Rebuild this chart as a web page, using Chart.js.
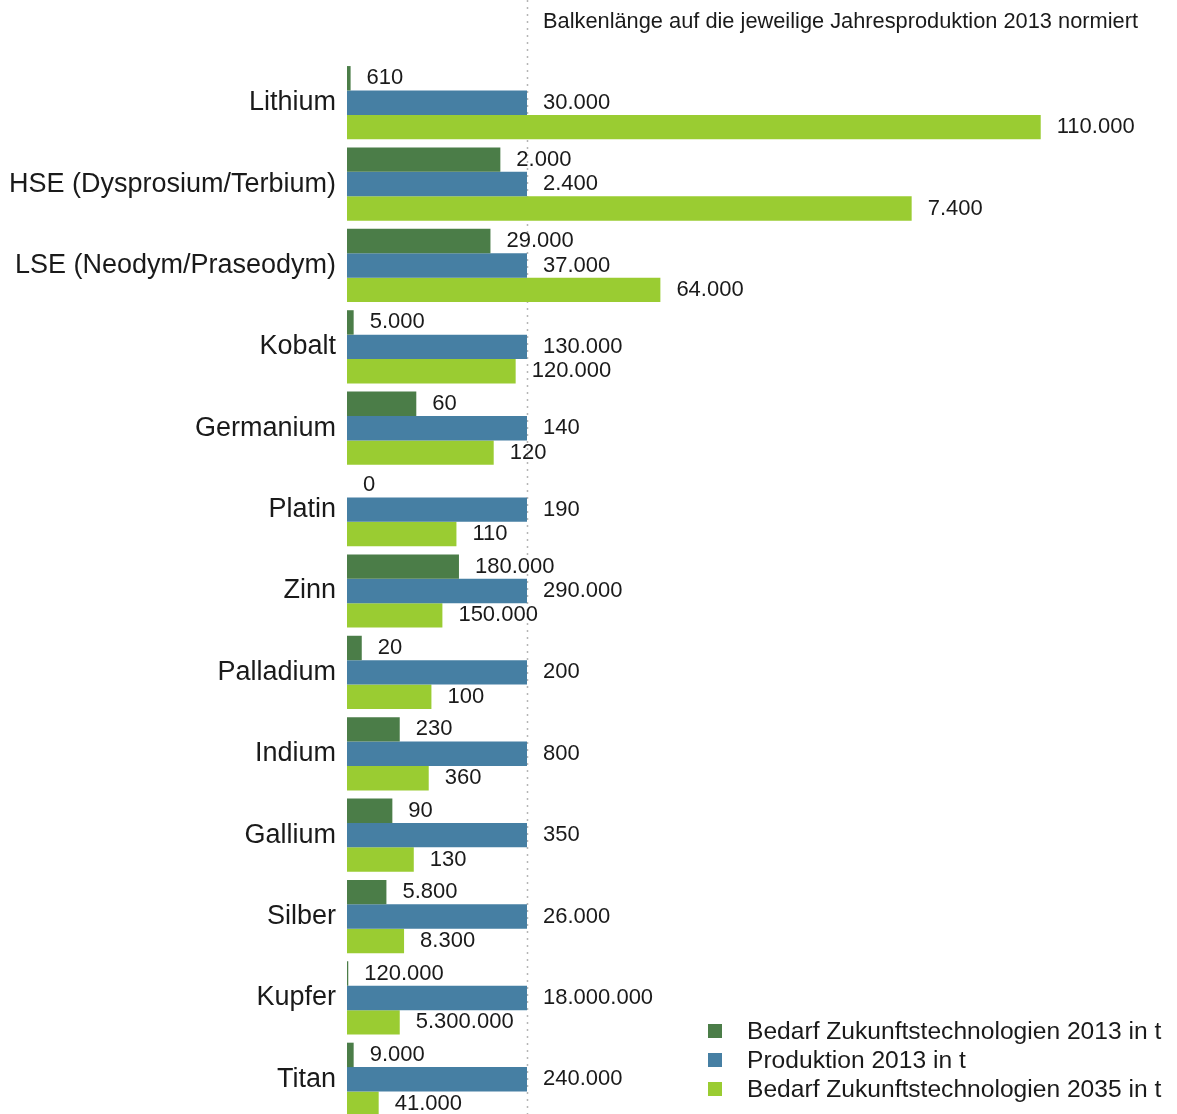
<!DOCTYPE html>
<html><head><meta charset="utf-8">
<script src="https://cdn.jsdelivr.net/npm/chart.js@4.4.0/dist/chart.umd.min.js"></script>
<style>
html,body{margin:0;padding:0;background:#fff;overflow:hidden;width:1177px;height:1114px;}
#wrap{position:relative;width:1177px;height:1120px;}
canvas{position:absolute;left:0;top:0;}
.t{position:absolute;font-family:"Liberation Sans",Arial,sans-serif;color:#1a1a1a;white-space:nowrap;}
#title{left:543px;top:8px;font-size:21.8px;}
.lg{position:absolute;left:708px;width:14px;height:14px;}
.lt{left:747px;font-size:24.6px;line-height:28px;}
</style></head>
<body><div id="wrap">
<canvas id="c" width="1177" height="1120"></canvas>
<div class="t" id="title">Balkenlänge auf die jeweilige Jahresproduktion 2013 normiert</div>
<div class="lg" style="top:1024px;background:#4b7d48"></div>
<div class="t lt" style="top:1017px">Bedarf Zukunftstechnologien 2013 in t</div>
<div class="lg" style="top:1053px;background:#467fa3"></div>
<div class="t lt" style="top:1046px">Produktion 2013 in t</div>
<div class="lg" style="top:1082px;background:#9acc32"></div>
<div class="t lt" style="top:1075px">Bedarf Zukunftstechnologien 2035 in t</div>
</div>
<script>
const categories = ["Lithium","HSE (Dysprosium/Terbium)","LSE (Neodym/Praseodym)","Kobalt","Germanium","Platin","Zinn","Palladium","Indium","Gallium","Silber","Kupfer","Titan"];
const seriesNames = ["Bedarf Zukunftstechnologien 2013 in t","Produktion 2013 in t","Bedarf Zukunftstechnologien 2035 in t"];
// bar lengths, normalised to production 2013
const demand2013Norm = [0.02,0.852,0.797,0.037,0.385,0,0.622,0.082,0.293,0.252,0.219,0.007,0.037];
const production2013Norm = [1,1,1,1,1,1,1,1,1,1,1,1,1];
const demand2035Norm = [3.854,3.137,1.741,0.937,0.815,0.608,0.53,0.469,0.454,0.371,0.317,0.293,0.176];
// printed absolute values (t)
const demand2013Labels = ["610","2.000","29.000","5.000","60","0","180.000","20","230","90","5.800","120.000","9.000"];
const production2013Labels = ["30.000","2.400","37.000","130.000","140","190","290.000","200","800","350","26.000","18.000.000","240.000"];
const demand2035Labels = ["110.000","7.400","64.000","120.000","120","110","150.000","100","360","130","8.300","5.300.000","41.000"];

const colors = ["#4b7d48","#467fa3","#9acc32"];
const labelSets = [demand2013Labels, production2013Labels, demand2035Labels];

const refLine = {
  id:'refLine',
  beforeDatasetsDraw(chart){
    const x = Math.round(chart.scales.x.getPixelForValue(1))+0.5;
    const ctx = chart.ctx;
    ctx.save();
    ctx.strokeStyle = '#b5b5b5';
    ctx.lineWidth = 1.5;
    ctx.setLineDash([2,5]);
    ctx.beginPath(); ctx.moveTo(x,0); ctx.lineTo(x,chart.height); ctx.stroke();
    ctx.restore();
  }
};
const valueLabels = {
  id:'valueLabels',
  afterDatasetsDraw(chart){
    const ctx = chart.ctx;
    ctx.save();
    ctx.font = '22px "Liberation Sans", Arial, sans-serif';
    ctx.fillStyle = '#1a1a1a';
    ctx.textBaseline = 'middle';
    ctx.textAlign = 'left';
    chart.data.datasets.forEach((ds,di)=>{
      chart.getDatasetMeta(di).data.forEach((el,i)=>{
        ctx.fillText(labelSets[di][i], el.x+16, el.y);
      });
    });
    ctx.restore();
  }
};

new Chart(document.getElementById('c'),{
  type:'bar',
  data:{
    labels:categories,
    datasets:[
      {label:seriesNames[0],data:demand2013Norm,backgroundColor:colors[0]},
      {label:seriesNames[1],data:production2013Norm,backgroundColor:colors[1]},
      {label:seriesNames[2],data:demand2035Norm,backgroundColor:colors[2]}
    ]
  },
  options:{
    indexAxis:'y',
    responsive:false,
    animation:false,
    devicePixelRatio:1,
    datasets:{bar:{categoryPercentage:0.9,barPercentage:1.0,borderWidth:0}},
    layout:{padding:{top:62,bottom:0,right:20,left:0}},
    plugins:{legend:{display:false},tooltip:{enabled:false}},
    scales:{
      x:{display:false,min:0,max:4.5},
      y:{
        grid:{display:false,drawTicks:false},
        border:{display:false},
        afterFit(s){ s.width = 347; s.paddingTop = 0; s.paddingBottom = 0; },
        ticks:{color:'#1a1a1a',padding:11,font:{family:'"Liberation Sans", Arial, sans-serif',size:27}}
      }
    }
  },
  plugins:[refLine,valueLabels]
});
</script>
</body></html>
